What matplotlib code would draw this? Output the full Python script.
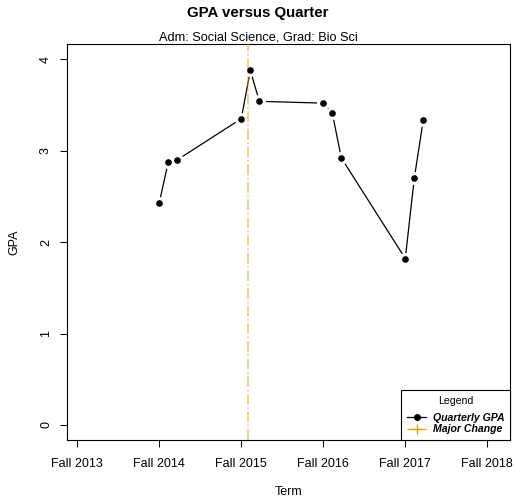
import matplotlib
matplotlib.use("Agg")
import matplotlib.pyplot as plt
from matplotlib.lines import Line2D

plt.rcParams['font.family'] = ['Liberation Sans', 'DejaVu Sans']

# Data
term_x = [2014.0, 2014.11, 2014.22, 2015.0, 2015.11, 2015.22,
          2016.0, 2016.11, 2016.22, 2017.0, 2017.11, 2017.22]
gpa = [2.43, 2.88, 2.90, 3.35, 3.88, 3.54, 3.52, 3.41, 2.92, 1.82, 2.70, 3.34]
major_change_x = 2015.078
tick_pos = [2013, 2014, 2015, 2016, 2017, 2018]
tick_labels = ["Fall 2013", "Fall 2014", "Fall 2015", "Fall 2016", "Fall 2017", "Fall 2018"]
y_ticks = [0, 1, 2, 3, 4]

fig = plt.figure(figsize=(5.16, 5.01), dpi=100)
ax = fig.add_axes([67.3/516, 1-440/501, (510-67.3)/516, (440-44)/501])

orange = '#E69F00'
# line with gaps around points (R type="b")
ax.plot(term_x, gpa, color='black', lw=0.9, marker='o', markersize=4.8,
        markerfacecolor='black', markeredgecolor='white', markeredgewidth=4.5, zorder=2)
ax.axvline(major_change_x, color=orange, alpha=0.55, lw=1.2, ls='-.', zorder=3)
ax.plot(term_x, gpa, ls='none', marker='o', markersize=4.8, markeredgewidth=0,
        color='black', zorder=4)

ax.set_xlim(2012.878, 2018.277)
ax.set_ylim(-0.165, 4.167)
ax.set_xticks(tick_pos)
ax.set_xticklabels(tick_labels, fontsize=9)
ax.set_yticks(y_ticks)
ax.set_yticklabels([str(v) for v in y_ticks], fontsize=9, rotation=90, va='center')
ax.tick_params(axis='both', direction='out', length=5, width=0.75)
ax.tick_params(axis='x', pad=8)
ax.tick_params(axis='y', pad=6)
for s in ax.spines.values():
    s.set_linewidth(0.8)

fig.text(0.5, 1-13/501, "GPA versus Quarter", ha='center', va='center',
         fontsize=10.8, fontweight='bold')
fig.text(0.5, 1-37/501, "Adm: Social Science, Grad: Bio Sci", ha='center', va='center',
         fontsize=9.2)
fig.text((67.3+510)/2/516, 1-492/501, "Term", ha='center', va='center', fontsize=9)
fig.text(14/516, 1-242/501, "GPA", ha='center', va='center', fontsize=9, rotation=90)

handles = [
    Line2D([0], [0], color='black', lw=0.9, marker='o', markersize=4),
    Line2D([0], [0], color=orange, lw=0.9, ls='-.', marker='+', markersize=7),
]
leg = ax.legend(handles, ["Quarterly GPA", "Major Change"], loc='lower right',
                title="Legend", title_fontsize=7.6, borderaxespad=0,
                fancybox=False, framealpha=1, edgecolor='black',
                prop={'weight': 'bold', 'style': 'italic', 'size': 7.6},
                handlelength=1.8, handletextpad=0.6, borderpad=0.55, labelspacing=0.15)
leg._legend_box.sep = 5
leg.get_frame().set_linewidth(0.8)

fig.savefig("out.png", dpi=100)
